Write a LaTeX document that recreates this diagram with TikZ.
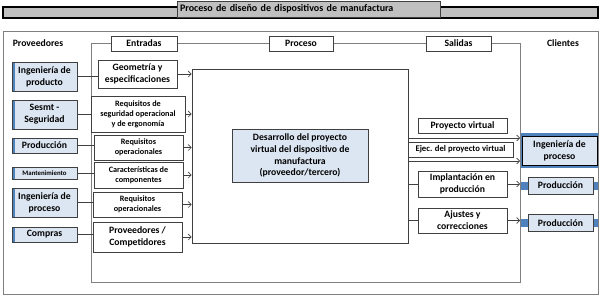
\documentclass[tikz,border=0pt]{standalone}
\usepackage{fontspec}
\setmainfont{Carlito}
\usetikzlibrary{arrows.meta}
\definecolor{lb}{HTML}{DCE6F2}
\definecolor{acc}{HTML}{4F81BD}
\definecolor{dk}{HTML}{404040}
\definecolor{fr}{HTML}{7F7F7F}
\definecolor{tg}{HTML}{C0C0C0}
\begin{document}
\begin{tikzpicture}[x=1pt,y=-1pt,
  every node/.style={font=\bfseries\fontsize{9.7}{11.8}\selectfont, align=center, inner sep=0pt},
  sz/.style 2 args={minimum width=#1pt, minimum height=#2pt},
  wbox/.style={draw=dk, line width=0.8pt, fill=white},
  supbox/.style={draw=dk, line width=0.8pt, fill=lb,
    path picture={\fill[acc] (path picture bounding box.north west) rectangle ([xshift=3pt]path picture bounding box.south west);}},
  clibox/.style={draw=dk, line width=0.9pt, fill=lb},
  smalltxt/.style={font=\bfseries\fontsize{8.2}{10}\selectfont},
  ejectxt/.style={font=\bfseries\fontsize{8.7}{10}\selectfont},
  tinytxt/.style={font=\bfseries\fontsize{6.8}{8}\selectfont},
  frame/.style={draw=fr, line width=0.9pt},
  conn/.style={draw=dk, line width=0.7pt},
  arr/.style={conn, -{Straight Barb[length=3pt,width=6pt,line width=0.6pt]}},
  band/.style={fill=acc}
]
\useasboundingbox (0,0) rectangle (605,298);

% title bar
\draw[fill=tg, draw=black, line width=1.2pt] (3,7) rectangle (598,18);
\node[sz={263}{16}, fill=tg, draw=dk, line width=1pt, text width=257pt, align=left,
      font=\bfseries\fontsize{10}{12}\selectfont] (title) at (308.5,9) {Proceso de diseño de dispositivos de manufactura};

% frames
\draw[frame] (3,31) rectangle (598,294);
\draw[frame] (91,43) rectangle (520,282);

% headers
\node (prov) at (38,43) {Proveedores};
\node (cli) at (563,43) {Clientes};
\node[wbox, sz={66}{15}] (entr) at (144,43.5) {Entradas};
\node[wbox, sz={64}{15}] (proc) at (301,43.5) {Proceso};
\node[wbox, sz={65}{15}] (sal) at (458.5,43.5) {Salidas};

% suppliers
\node[supbox, sz={65}{29}] (s1) at (44.5,76.5) {Ingeniería de\\producto};
\node[supbox, sz={65}{29}] (s2) at (44.5,114.5) {Sesmt -\\Seguridad};
\node[supbox, sz={65}{15}] (s3) at (44.5,145.5) {Producción};
\node[supbox, sz={65}{12}, tinytxt] (s4) at (44.5,173) {Mantenimiento};
\node[supbox, sz={65}{29}] (s5) at (44.5,202.5) {Ingeniería de\\proceso};
\node[supbox, sz={65}{15}] (s6) at (44.5,234.5) {Compras};

% inputs
\node[wbox, sz={79}{28}] (i1) at (137.5,74) {Geometría y\\especificaciones};
\node[wbox, sz={94}{36}, smalltxt] (i2) at (138,114) {Requisitos de\\seguridad operacional\\y de ergonomía};
\node[wbox, sz={89}{25}, smalltxt] (i3) at (138.5,147.5) {Requisitos\\operacionales};
\node[wbox, sz={89}{26}, smalltxt] (i4) at (138.5,175) {Características de\\componentes};
\node[wbox, sz={89}{25}, smalltxt] (i5) at (137.5,204.5) {Requisitos\\operacionales};
\node[wbox, sz={89}{30}] (i6) at (137.5,237) {Proveedores /\\Competidores};

% process
\node[wbox, sz={216}{174}] (pr) at (300,156) {};
\node[draw=dk, line width=0.8pt, fill=lb, sz={136}{53}] (dev) at (300,155.5) {Desarrollo del proyecto\\virtual del dispositivo de\\manufactura\\(proveedor/tercero)};

% outputs
\node[wbox, sz={89}{15}] (o1) at (462.5,125.5) {Proyecto virtual};
\node[wbox, sz={105}{15}, ejectxt] (o2) at (460.5,149.5) {Ejec. del proyecto virtual};
\node[wbox, sz={89}{26}] (o3) at (462.5,184) {Implantación en\\producción};
\node[wbox, sz={89}{25}] (o4) at (462.5,220.5) {Ajustes y\\correcciones};

% clients
\fill[band] (521,133) rectangle (598,168);
\node[clibox, draw=black, sz={75}{29}] (c1) at (559.5,150.5) {Ingeniería de\\proceso};
\fill[band] (521,182) rectangle (598,190);
\node[clibox, sz={65}{17}] (c2) at (560.5,185.5) {Producción};
\fill[band] (521,219) rectangle (598,227);
\node[clibox, sz={65}{17}] (c3) at (560.5,223) {Producción};
\coordinate (cin) at (520,150);

% connectors supplier -> input
\foreach \s/\i in {s1/i1,s2/i2,s3/i3,s4/i4,s5/i5,s6/i6}{
  \draw[conn] (\s.east) -- (\s.east -| \i.west);
  \draw[arr] (\i.east) -- (\i.east -| pr.west);
}

% process -> clients
\coordinate (oa) at (408,138);
\coordinate (ob) at (408,161);
\draw[arr] (oa) -- (oa -| cin);
\draw[arr] (ob) -- (ob -| cin);
\draw[conn] (o3.west -| pr.east) -- (o3.west);
\draw[arr] (o3.east) -- (o3.east -| cin);
\draw[conn] (o4.west -| pr.east) -- (o4.west);
\draw[arr] (o4.east) -- (o4.east -| cin);
\end{tikzpicture}
\end{document}
